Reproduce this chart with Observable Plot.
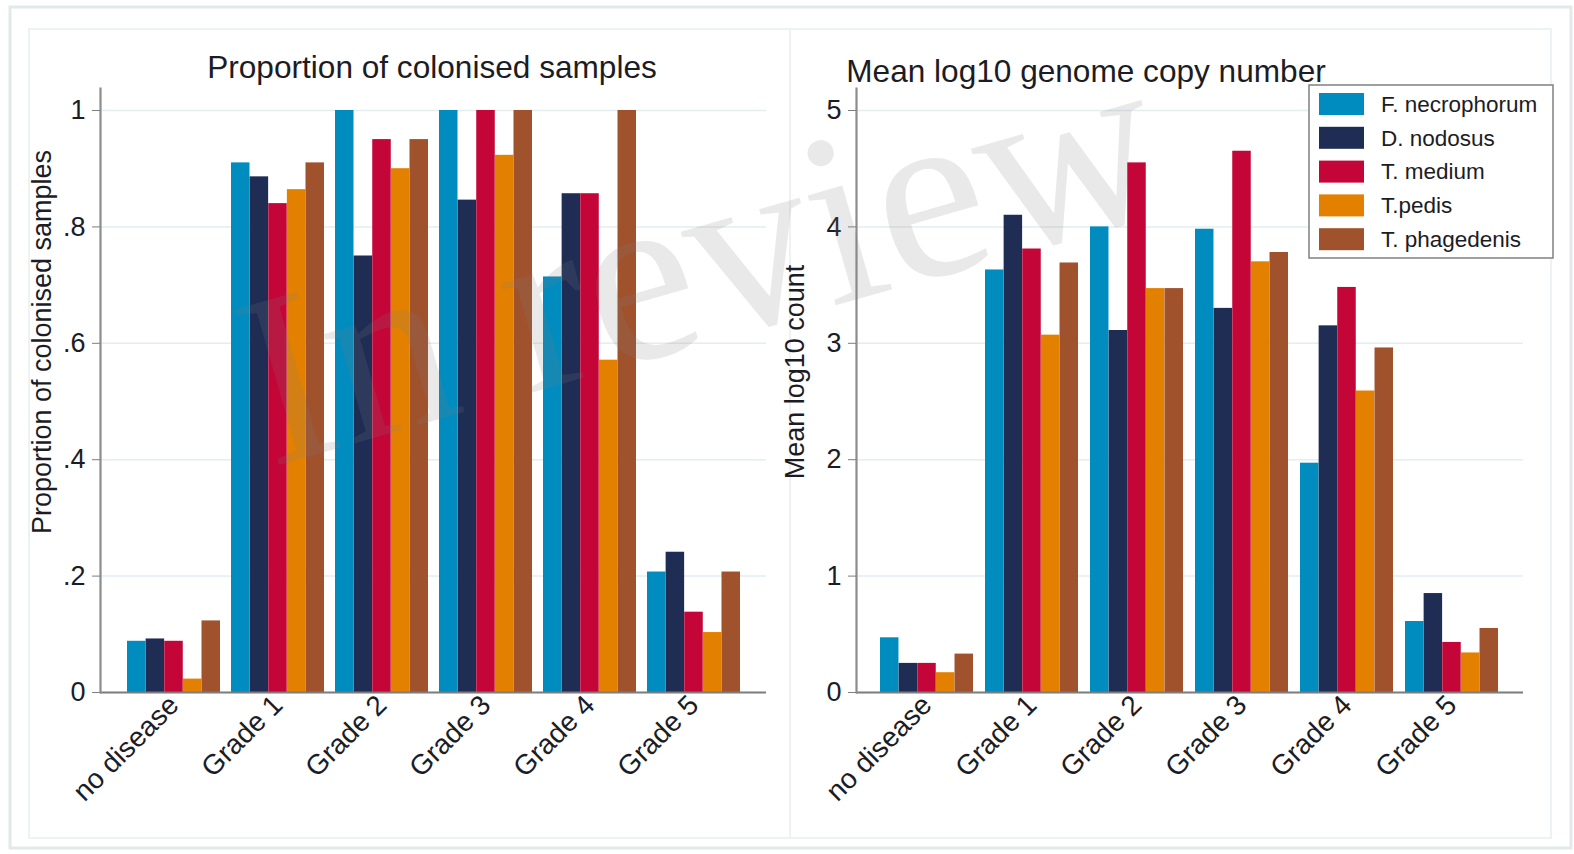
<!DOCTYPE html>
<html><head><meta charset="utf-8">
<script src="https://cdn.jsdelivr.net/npm/d3@7"></script>
<script src="https://cdn.jsdelivr.net/npm/@observablehq/plot@0.6"></script>
<style>
html,body{margin:0;padding:0;background:#fff;}
#root{position:relative;width:1574px;height:854px;overflow:hidden;font-family:"Liberation Sans",Arial,sans-serif;}
#root > svg, #root > .plotwrap{position:absolute;}
</style></head><body><div id="root"></div>
<script>
// ---------- data ----------
const categories = ["no disease", "Grade 1", "Grade 2", "Grade 3", "Grade 4", "Grade 5"];
const species = ["F. necrophorum", "D. nodosus", "T. medium", "T.pedis", "T. phagedenis"];
const speciesColors = ["#008cbe", "#1f2d55", "#c30537", "#e48000", "#a0522d"];

// Proportion of colonised samples
const propNecrophorum = [0.088, 0.910, 1.000, 1.000, 0.714, 0.207];
const propNodosus     = [0.092, 0.886, 0.750, 0.846, 0.857, 0.241];
const propMedium      = [0.088, 0.840, 0.950, 1.000, 0.857, 0.138];
const propPedis       = [0.023, 0.864, 0.900, 0.923, 0.571, 0.103];
const propPhagedenis  = [0.123, 0.910, 0.950, 1.000, 1.000, 0.207];

// Mean log10 count
const logNecrophorum = [0.47, 3.63, 4.00, 3.98, 1.97, 0.61];
const logNodosus     = [0.25, 4.10, 3.11, 3.30, 3.15, 0.85];
const logMedium      = [0.25, 3.81, 4.55, 4.65, 3.48, 0.43];
const logPedis       = [0.17, 3.07, 3.47, 3.70, 2.59, 0.34];
const logPhagedenis  = [0.33, 3.69, 3.47, 3.78, 2.96, 0.55];

const leftTicks = [0, 0.2, 0.4, 0.6, 0.8, 1];
const leftTickLabels = ["0", ".2", ".4", ".6", ".8", "1"];
const rightTicks = [0, 1, 2, 3, 4, 5];
const rightTickLabels = ["0", "1", "2", "3", "4", "5"];

const leftTitle = "Proportion of colonised samples";
const leftYLabel = "Proportion of colonised samples";
const rightTitle = "Mean log10 genome copy number";
const rightYLabel = "Mean log10 count";
const watermark = "In review";

// ---------- drawing ----------
const root = document.getElementById("root");
const FONT = '"Liberation Sans", Arial, sans-serif';
const TEXT = "#1c1c24";

function panel({series, ticks, tickLabels, yMax, left, width, marginLeft, marginRight, padIn, padOut}) {
  const data = [];
  species.forEach((s, i) => categories.forEach((c, j) => data.push({category: c, species: s, value: series[i][j]})));
  const H = 854, marginTop = 88, marginBottom = 162;
  const plotW = width - marginLeft - marginRight;
  const step = plotW / (categories.length - padIn + 2 * padOut);
  const sub = step * (1 - padIn) / species.length;
  const chart = Plot.plot({
    width, height: H, marginLeft, marginRight, marginTop, marginBottom,
    style: {fontFamily: FONT, fontSize: "27px", color: TEXT, background: "transparent", overflow: "visible"},
    x: {type: "band", domain: categories, paddingInner: padIn, paddingOuter: padOut, align: 0.5, label: null},
    y: {domain: [0, yMax], label: null},
    color: {domain: species, range: speciesColors},
    marks: [
      Plot.gridY(ticks, {stroke: "#e2eef0", strokeOpacity: 1, strokeWidth: 1.5}),
      ...species.map((s, i) => Plot.barY(data.filter(d => d.species === s), {
        x: "category", y: "value", fill: "species",
        insetLeft: i * sub, insetRight: (species.length - 1 - i) * sub
      })),
      Plot.ruleY([0], {stroke: "#7d7d7d", strokeWidth: 2}),
      Plot.frame({anchor: "left", stroke: "#8c8c8c", strokeWidth: 2.2}),
      Plot.axisY(ticks, {
        tickFormat: d => tickLabels[ticks.indexOf(d)], tickSize: 8, tickPadding: 7,
        stroke: "#7d7d7d", fill: TEXT, fontSize: 27, label: null
      }),
      Plot.axisX({tickRotate: -45, tickSize: 0, tickPadding: 8, fill: TEXT, fontSize: 28, label: null})
    ]
  });
  chart.style.position = "absolute";
  chart.style.left = left + "px";
  chart.style.top = "0px";
  root.appendChild(chart);
}

panel({
  series: [propNecrophorum, propNodosus, propMedium, propPedis, propPhagedenis],
  ticks: leftTicks, tickLabels: leftTickLabels, yMax: 1 * 604 / 582,
  left: 0, width: 790, marginLeft: 100, marginRight: 24, padIn: 0.106, padOut: 0.25
});
panel({
  series: [logNecrophorum, logNodosus, logMedium, logPedis, logPhagedenis],
  ticks: rightTicks, tickLabels: rightTickLabels, yMax: 5 * 604 / 582,
  left: 790, width: 784, marginLeft: 66, marginRight: 51, padIn: 0.114, padOut: 0.229
});

// ---------- overlay: frames, titles, axis titles, legend, watermark ----------
const svg = d3.select(root).append("svg")
  .attr("width", 1574).attr("height", 854)
  .style("left", "0px").style("top", "0px")
  .style("font-family", FONT);

svg.append("rect").attr("x", 10).attr("y", 7).attr("width", 1561).attr("height", 841)
  .attr("fill", "none").attr("stroke", "#e3e9eb").attr("stroke-width", 3);
svg.append("rect").attr("x", 29).attr("y", 29).attr("width", 761).attr("height", 809)
  .attr("fill", "none").attr("stroke", "#edf3f5").attr("stroke-width", 2);
svg.append("rect").attr("x", 790).attr("y", 29).attr("width", 761).attr("height", 809)
  .attr("fill", "none").attr("stroke", "#edf3f5").attr("stroke-width", 2);

svg.append("text").attr("x", 432).attr("y", 78).attr("text-anchor", "middle")
  .attr("font-size", 31.6).attr("fill", TEXT).text(leftTitle);
svg.append("text").attr("x", 1086).attr("y", 82).attr("text-anchor", "middle")
  .attr("font-size", 31.6).attr("fill", TEXT).text(rightTitle);

svg.append("text").attr("transform", "translate(51,342) rotate(-90)").attr("text-anchor", "middle")
  .attr("font-size", 27).attr("fill", TEXT).text(leftYLabel);
svg.append("text").attr("transform", "translate(804,372) rotate(-90)").attr("text-anchor", "middle")
  .attr("font-size", 27).attr("fill", TEXT).text(rightYLabel);

// legend
const lg = svg.append("g");
lg.append("rect").attr("x", 1309).attr("y", 85).attr("width", 244).attr("height", 173)
  .attr("fill", "#fff").attr("stroke", "#808080").attr("stroke-width", 1.5);
species.forEach((s, i) => {
  const cy = 104 + i * 33.8;
  lg.append("rect").attr("x", 1319).attr("y", cy - 11).attr("width", 45).attr("height", 22)
    .attr("fill", speciesColors[i]);
  lg.append("text").attr("x", 1381).attr("y", cy).attr("dy", "0.35em")
    .attr("font-size", 22.5).attr("fill", TEXT).text(s);
});

// watermark
svg.append("text").attr("transform", "translate(722,338) rotate(-16)").attr("text-anchor", "middle")
  .attr("font-family", '"Liberation Serif", "Times New Roman", serif').attr("font-size", 247)
  .attr("fill", "#7f7f7f").attr("fill-opacity", 0.17).text(watermark);
</script>
</body></html>
